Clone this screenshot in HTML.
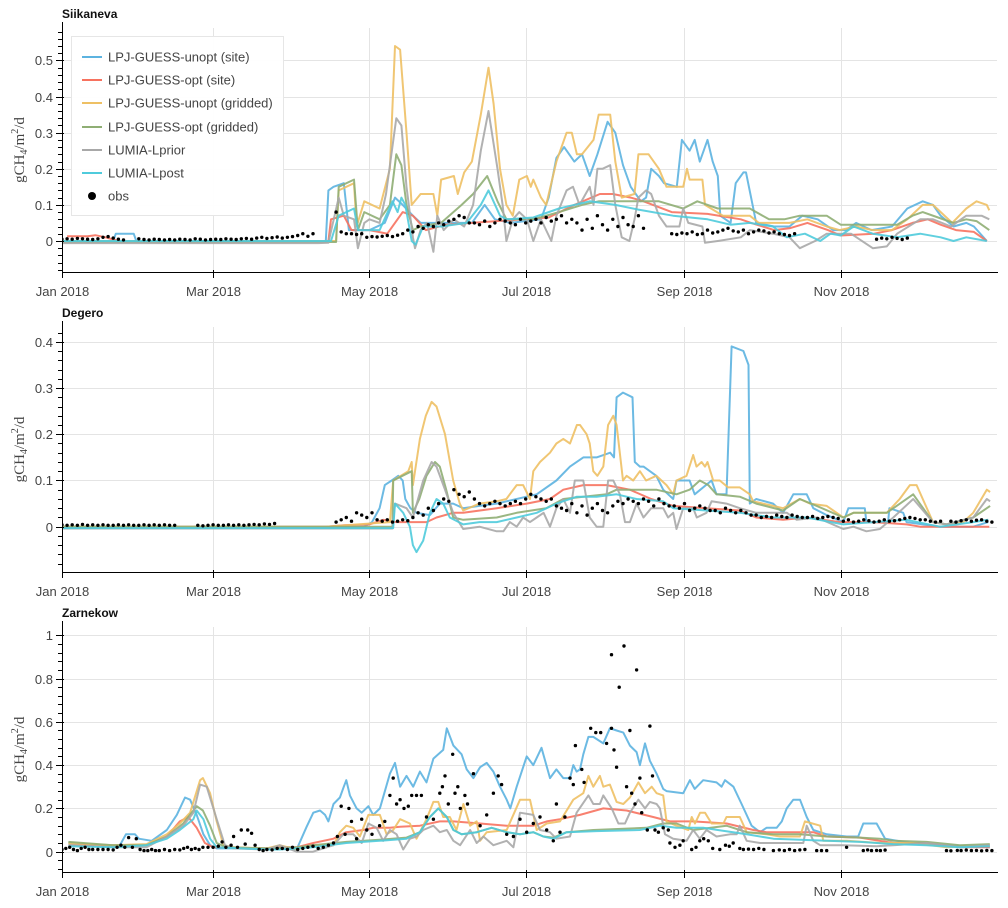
<!DOCTYPE html>
<html><head><meta charset="utf-8"><style>
html,body{margin:0;padding:0;background:#fff;}
svg{display:block;font-family:"Liberation Sans",sans-serif;}
</style></head><body>
<svg id="chart" width="1008" height="908" viewBox="0 0 1008 908" xmlns="http://www.w3.org/2000/svg"></svg>
<script>
// ---------- data ----------
const seriesNames = ["LPJ-GUESS-unopt (site)","LPJ-GUESS-opt (site)","LPJ-GUESS-unopt (gridded)","LPJ-GUESS-opt (gridded)","LUMIA-Lprior","LUMIA-Lpost"];
const seriesColors = ["#5cb3e0","#f7725f","#eec064","#8fae74","#a8a8a8","#4fcbdc"];
const panelTitles = ["Siikaneva","Degero","Zarnekow"];
const monthTicks = [0,59,120,181,243,304];
const monthLabels = ["Jan 2018","Mar 2018","May 2018","Jul 2018","Sep 2018","Nov 2018"];
const yTicks1 = [0,0.1,0.2,0.3,0.4,0.5];
const yTicks2 = [0,0.1,0.2,0.3,0.4];
const yTicks3 = [0,0.2,0.4,0.6,0.8,1];
const yLabels1 = ["0","0.1","0.2","0.3","0.4","0.5"];
const yLabels2 = ["0","0.1","0.2","0.3","0.4"];
const yLabels3 = ["0","0.2","0.4","0.6","0.8","1"];

// Siikaneva
const p1UnoptSite = [[0,0],[20,0],[21,0.02],[28,0.02],[29,0],[103,0],[104,0.14],[106,0.15],[110,0.16],[112,0.03],[120,0.03],[126,0.05],[130,0.12],[133,0.1],[137,0.07],[140,0.05],[160,0.05],[165,0.1],[169,0.06],[175,0.05],[187,0.06],[190,0.12],[193,0.23],[196,0.26],[200,0.22],[203,0.24],[206,0.18],[209,0.24],[213,0.33],[216,0.3],[219,0.21],[222,0.15],[226,0.11],[228,0.12],[230,0.2],[233,0.18],[235,0.16],[240,0.15],[242,0.28],[245,0.25],[247,0.28],[249,0.22],[252,0.28],[254,0.22],[256,0.18],[257,0.07],[261,0.05],[263,0.16],[266,0.19],[267,0.19],[269,0.12],[271,0.05],[278,0.04],[284,0.04],[289,0.07],[295,0.06],[301,0.03],[306,0.03],[310,0.05],[316,0.03],[324,0.04],[330,0.09],[336,0.11],[340,0.1],[343,0.07],[348,0.04],[353,0.05],[356,0.04],[361,0.0]];
const p1OptSite = [[2,0.013],[10,0.013],[13,0.016],[17,0.01],[22,0],[104,0],[105,0.06],[110,0.07],[113,0.03],[120,0.03],[127,0.02],[133,0.08],[137,0.07],[142,0.03],[150,0.045],[160,0.05],[180,0.06],[190,0.065],[200,0.1],[210,0.13],[215,0.13],[222,0.12],[227,0.11],[238,0.08],[252,0.075],[265,0.06],[269,0.05],[278,0.03],[284,0.035],[291,0.05],[299,0.03],[304,0.015],[317,0.02],[324,0.03],[332,0.05],[338,0.06],[343,0.045],[349,0.03],[356,0.025],[361,0.0]];
const p1UnoptGrid = [[0,0],[107,0],[108,0.14],[114,0.16],[115,0.04],[118,0.11],[124,0.09],[128,0.2],[130,0.54],[132,0.53],[134.5,0.3],[136.5,0.1],[140,0.13],[145,0.13],[146.5,0.07],[148,0.17],[153,0.18],[154.5,0.13],[157,0.19],[160,0.22],[163.5,0.35],[166.5,0.48],[168.5,0.38],[171,0.2],[173.5,0.1],[176,0.07],[178.5,0.17],[181.5,0.18],[183,0.15],[184,0.17],[187,0.12],[189,0.1],[193,0.22],[197,0.3],[199,0.3],[201,0.24],[203,0.24],[207.5,0.28],[209.5,0.35],[214,0.35],[216,0.22],[218.5,0.12],[223.5,0.13],[225,0.24],[229,0.24],[233,0.2],[236,0.15],[242.5,0.15],[244,0.2],[245,0.17],[250,0.17],[251,0.1],[258,0.07],[268.5,0.07],[272,0.05],[284,0.05],[291,0.06],[298.5,0.04],[303.5,0.03],[310,0.04],[316.5,0.03],[324,0.03],[330,0.06],[336,0.1],[340,0.1],[347.5,0.05],[353,0.09],[357,0.11],[361,0.1],[362,0.085]];
const p1OptGrid = [[0,-0.003],[107,-0.003],[108,0.15],[114,0.17],[115.5,0.03],[118,0.08],[124,0.06],[128,0.1],[130.5,0.24],[132.5,0.21],[134.5,0.1],[137,0.03],[140,0.04],[148,0.05],[156,0.1],[160.5,0.13],[166,0.18],[170,0.11],[173.5,0.06],[184,0.06],[194,0.08],[203,0.1],[209.5,0.11],[222.5,0.11],[233,0.11],[242.5,0.09],[248,0.11],[256,0.09],[268.5,0.09],[276,0.06],[282,0.06],[288,0.07],[298.5,0.07],[304,0.045],[326,0.045],[332,0.07],[336,0.08],[342,0.065],[348,0.05],[353,0.06],[357,0.055],[362,0.03]];
const p1Prior = [[0,-0.006],[100,-0.006],[104,-0.005],[108,0.12],[110,0.07],[114,0.06],[115.5,-0.02],[118,0.05],[120,0.06],[124,0.05],[126.5,0.13],[130.5,0.34],[132.5,0.32],[134.5,0.15],[137,0.01],[137.8,-0.02],[140,0.03],[142.5,0.05],[145,-0.03],[146.5,0.07],[149,0.03],[153,0.06],[157,0.04],[160.5,0.1],[163.5,0.25],[166.5,0.36],[170,0.2],[172,0.1],[173.5,0.0],[176,0.06],[178.5,0.08],[181.5,0.06],[184,0.0],[187,0.06],[191,0.0],[193,0.07],[197,0.14],[199.5,0.15],[202,0.1],[206,0.15],[207.5,0.1],[209,0.2],[211,0.2],[214,0.21],[216,0.1],[218.5,0.01],[221.5,0.0],[223.5,0.06],[225,0.12],[228,0.14],[230,0.13],[233,0.07],[236,0.04],[241,0.04],[242.5,0.09],[244.5,0.05],[250,0.04],[251,-0.005],[256,0.0],[265,0.01],[268.5,0.03],[277.5,0.02],[284,0.01],[288,-0.02],[294,0.0],[298.5,0.02],[308,0.02],[316.5,-0.02],[322,-0.015],[326,0.02],[335,0.06],[340,0.06],[347,0.04],[353,0.07],[359,0.07],[362,0.06]];
const p1Post = [[0,0],[105,0],[108,0.07],[114,0.09],[115.5,0.03],[124,0.03],[129,0.11],[131,0.08],[132.5,0.12],[134,0.1],[136.5,0.0],[138,-0.01],[141,0.04],[148,0.04],[158,0.05],[163.5,0.1],[166.5,0.14],[171,0.07],[173.5,0.06],[184,0.065],[194,0.09],[206,0.11],[216,0.1],[225,0.087],[238.5,0.07],[252,0.06],[261,0.045],[268.5,0.05],[277.5,0.04],[283,0.01],[290,0.02],[296,0.0],[300,0.02],[304,0.015],[309,0.04],[316.5,0.02],[326,0.01],[335,0.02],[343,0.01],[348,0.0],[353,0.01],[361,0.0]];
// obs: [start day, values every 2 days]
const p1Obs = [
 [0,[0.005,0.006,0.005,0.007,0.006,0.005,0.004,0.006,0.01,0.012,0.008,0.005,0.003]],
 [30,[0.006,0.004,0.003,0.005,0.004,0.003,0.004,0.003,0.005,0.004,0.003,0.006,0.005,0.003,0.004,0.005,0.004,0.006,0.005,0.004,0.006,0.007,0.005,0.008,0.01,0.007,0.009,0.011,0.008,0.01,0.012,0.015,0.02,0.013,0.02]],
 [107,[0.08]],
 [109,[0.025,0.02,0.02,0.018,0.02,0.01,0.012,0.011,0.013,0.015,0.012,0.016]],
 [133,[0.02,0.03,0.025,0.04,0.035,0.045,0.04,0.05,0.045,0.055,0.06,0.07,0.065,0.05]],
 [161,[0.05,0.045,0.055,0.04,0.05,0.06,0.055,0.05,0.045,0.06,0.05,0.055,0.06,0.05,0.065,0.055,0.06,0.07,0.05,0.06]],
 [201,[0.05,0.03,0.06,0.035,0.07,0.045,0.03,0.06,0.04,0.065,0.045,0.04,0.07,0.035]],
 [238,[0.02,0.018,0.022,0.02,0.025,0.018,0.02,0.03,0.022,0.025,0.03,0.035,0.028,0.025,0.03,0.02,0.025,0.03,0.028,0.022,0.025,0.02,0.018,0.015,0.02]],
 [318,[0.005,0.008,0.006,0.01,0.007,0.004,0.008]]
];

// Degero
const p2UnoptSite = [[0,0],[118,0],[121,0.01],[124,0.04],[126,0.09],[128.7,0.1],[131.3,0.11],[133,0.1],[134,0.06],[136,0.04],[138.4,0.03],[143.6,0.025],[147.5,0.05],[152.7,0.05],[156.6,0.04],[163,0.045],[169.7,0.05],[177.5,0.06],[185.3,0.07],[193,0.1],[198.3,0.13],[203.5,0.15],[208.7,0.15],[214,0.16],[215.5,0.15],[216.5,0.28],[219,0.29],[222.7,0.28],[223.6,0.14],[225.6,0.13],[227,0.13],[232,0.11],[234.7,0.08],[238.6,0.06],[239.9,0.1],[245,0.1],[247,0.07],[253.6,0.1],[255.5,0.07],[259.4,0.07],[261.4,0.39],[266,0.38],[268,0.35],[268.5,0.05],[271,0.06],[277.6,0.05],[281.5,0.03],[285.5,0.07],[290.7,0.07],[293.3,0.04],[298.5,0.025],[305,0.01],[307,0.04],[313.4,0.04],[314,0.01],[322.5,0.01],[323,0.04],[328.4,0.03],[329.7,0.01],[342.7,0.0],[355.7,0.0],[361.6,0.01]];
const p2OptSite = [[0,0],[103,0],[110,0.003],[120,0.005],[125.4,0.015],[130.6,0.01],[142.3,0.01],[146.2,0.02],[152.7,0.03],[156.6,0.03],[169.7,0.04],[181.4,0.05],[190.5,0.06],[195.7,0.08],[203.5,0.09],[212.6,0.09],[221.7,0.08],[230,0.06],[238.6,0.045],[251.6,0.04],[264.6,0.035],[271,0.02],[281.5,0.015],[290.7,0.02],[303.7,0.01],[316.7,0.01],[329.7,0.005],[335,0],[362,0]];
const p2UnoptGrid = [[0,0],[103,0],[128,0.01],[129.3,0.1],[135.2,0.12],[136.5,0.14],[137,0.09],[139.7,0.19],[142,0.24],[144.3,0.27],[146.2,0.26],[149.5,0.2],[152.7,0.1],[155.3,0.05],[156.6,0.035],[163,0.05],[169.7,0.055],[173.5,0.06],[174.8,0.07],[177.5,0.09],[180,0.09],[182.7,0.06],[184,0.12],[186.6,0.14],[190.5,0.16],[193,0.18],[195.7,0.19],[198.3,0.18],[201,0.22],[202.2,0.22],[204.8,0.2],[206,0.18],[207.4,0.12],[209,0.11],[211.3,0.13],[213.2,0.22],[215.2,0.24],[216.5,0.22],[219,0.1],[220.4,0.11],[223,0.1],[225.6,0.12],[228,0.1],[232,0.11],[236,0.09],[238.6,0.07],[239.9,0.1],[243.8,0.11],[246.4,0.155],[247.7,0.13],[249.7,0.14],[251,0.13],[252,0.14],[254.2,0.1],[256.8,0.1],[260,0.085],[264.6,0.085],[268.5,0.07],[269.8,0.055],[277.6,0.045],[281.5,0.04],[288,0.06],[292,0.05],[298.5,0.045],[305,0.02],[309,0.03],[322,0.03],[327,0.06],[331,0.09],[333.6,0.09],[340,0.01],[345.3,0.005],[351.8,0.01],[355.7,0.03],[361,0.08],[362.3,0.075]];
const p2OptGrid = [[0,0],[129,0],[129.3,0.1],[136.5,0.12],[137,0.03],[139.5,0.06],[142.3,0.11],[145.6,0.14],[147.5,0.13],[150,0.08],[152.7,0.02],[156.6,0.015],[169.7,0.02],[177.5,0.03],[189,0.04],[195.7,0.06],[203.5,0.065],[212.6,0.07],[216.5,0.08],[225.6,0.08],[232,0.08],[239.9,0.07],[245,0.08],[249,0.1],[252.3,0.09],[255.5,0.07],[264.6,0.065],[271,0.05],[281.5,0.035],[288,0.06],[294.6,0.045],[305,0.02],[309,0.03],[322,0.03],[332.3,0.07],[340,0.01],[345.3,0.005],[355.7,0.02],[361,0.04],[362.3,0.045]];
const p2Prior = [[0,-0.004],[129,-0.004],[130,0.05],[134.5,0.04],[137,0.02],[141,0.1],[144.3,0.14],[146.2,0.13],[149.5,0.08],[152.7,0.03],[156.6,-0.005],[163,0.0],[169.7,-0.01],[172.3,-0.01],[174.8,0.01],[177.5,0.0],[180,0.02],[182.7,0.01],[185.3,0.02],[188,0.03],[190.5,0.0],[193,0.04],[195.7,0.06],[198.3,0.03],[200.2,0.1],[203.5,0.1],[206,0.02],[208.7,0.0],[211.3,0.0],[213.2,0.1],[215.2,0.1],[217.8,0.07],[219.8,0.01],[221.7,0.01],[224.3,0.05],[227,0.02],[230,0.04],[234.7,0.04],[236.6,0.02],[238.6,0.03],[239.9,-0.005],[242.5,0.04],[246.4,0.04],[247.8,0.02],[251.6,0.03],[253.6,0.055],[259.4,0.05],[264.6,0.04],[271,0.03],[283,0.03],[286.8,0.015],[294.6,0.02],[305,-0.005],[309,0.0],[314,-0.01],[319.3,-0.005],[324.5,0.02],[332.3,0.06],[340,0.01],[345.3,0.005],[355.7,0.02],[361,0.06],[362.3,0.055]];
const p2Post = [[0,-0.003],[129.3,-0.003],[130,0.05],[133.2,0.03],[135.8,0.0],[137,-0.04],[138.4,-0.055],[141,-0.03],[143.6,0.03],[146.2,0.06],[148.8,0.05],[151.4,0.02],[156.6,0.005],[163,0.01],[169.7,0.01],[177.5,0.02],[185.3,0.03],[193,0.05],[201,0.065],[208.7,0.065],[216.5,0.07],[224.3,0.06],[234.7,0.055],[238.6,0.04],[251.6,0.035],[264.6,0.03],[277.6,0.02],[290.7,0.02],[305,0.005],[316.7,0.01],[329.7,0.015],[342.7,0.0],[355.7,0.01],[361.6,0.015]];
const p2Obs = [
 [0,[0.004,0.003,0.004,0.003,0.005,0.003,0.004,0.003,0.004,0.003,0.003,0.004,0.003,0.004,0.003,0.003,0.004,0.003,0.004,0.003,0.004,0.003,0.003]],
 [53,[0.003,0.002,0.003,0.004,0.003,0.003,0.004,0.003,0.004,0.003,0.004,0.005,0.004,0.006,0.005,0.007]],
 [107,[0.01,0.015,0.02,0.012,0.03,0.025,0.02,0.03,0.015,0.012,0.015,0.01,0.012,0.015,0.013]],
 [137,[0.02,0.03,0.025,0.04,0.035,0.05,0.06,0.055,0.08,0.07,0.065,0.075,0.06,0.05,0.045,0.05,0.055,0.05,0.045,0.05,0.055,0.05,0.06,0.07]],
 [185,[0.065,0.06,0.055,0.06,0.045,0.04,0.035,0.05,0.03,0.045,0.025,0.04,0.05,0.035,0.03,0.045,0.055,0.05,0.06,0.055,0.05,0.06,0.055,0.045,0.06,0.05,0.045]],
 [239,[0.045,0.04,0.05,0.035,0.04,0.045,0.04,0.035,0.035,0.03,0.04,0.035,0.03,0.035,0.03,0.025,0.025,0.02,0.022,0.02,0.025,0.022,0.02,0.025,0.022,0.02,0.02,0.022,0.018,0.02,0.022,0.02,0.018]],
 [305,[0.012,0.015,0.01,0.012,0.015,0.013,0.01,0.012,0.015,0.012,0.013,0.015,0.018,0.02,0.018,0.015,0.015,0.012,0.01,0.012]],
 [347,[0.012,0.01,0.013,0.015,0.012,0.014,0.015,0.012,0.01]]
];

// Zarnekow
const p3UnoptSite = [[2.5,0.04],[15,0.03],[22.6,0.03],[25,0.08],[28.5,0.08],[30,0.06],[35,0.05],[40.9,0.1],[44.8,0.17],[48,0.25],[50,0.24],[52.6,0.17],[55.2,0.08],[57.8,0.03],[60.4,0.015],[80,0.015],[91.6,0.01],[95.5,0.115],[98.1,0.18],[100.7,0.19],[102.7,0.17],[104,0.14],[106,0.22],[108.5,0.25],[110,0.3],[111,0.33],[112.4,0.26],[115,0.2],[117,0.18],[119.6,0.21],[121.5,0.17],[124.1,0.2],[128,0.36],[130,0.41],[132,0.3],[134.5,0.35],[137.1,0.3],[139.7,0.37],[142.3,0.32],[145,0.43],[148.8,0.47],[150.2,0.57],[152.8,0.49],[156,0.45],[158,0.38],[160.6,0.34],[163.2,0.39],[165.8,0.41],[168.4,0.37],[171,0.3],[173.6,0.24],[175,0.2],[177.5,0.3],[181.4,0.44],[184,0.4],[187.2,0.48],[190.5,0.34],[193,0.38],[195.7,0.34],[198.3,0.34],[199.6,0.4],[200.9,0.37],[202.2,0.38],[203.5,0.45],[205.5,0.53],[207.4,0.53],[211.3,0.5],[213.9,0.57],[216.5,0.56],[219.1,0.55],[221.7,0.49],[224.3,0.46],[225.6,0.4],[227.6,0.5],[229.5,0.42],[232.1,0.36],[234.7,0.29],[236,0.28],[242.5,0.27],[245.1,0.33],[247,0.29],[250.3,0.33],[255.5,0.32],[257.5,0.3],[258.8,0.33],[262.1,0.3],[265.3,0.22],[269.2,0.12],[272.5,0.09],[275,0.11],[279,0.11],[281,0.14],[282.9,0.2],[285.5,0.24],[288.1,0.24],[290.7,0.16],[293.3,0.1],[298.5,0.08],[306.3,0.07],[310.8,0.07],[312.8,0.13],[318,0.13],[321.3,0.06],[331,0.04],[344,0.03],[362.2,0.02]];
const p3OptSite = [[2.5,0.03],[20,0.03],[33,0.03],[40.9,0.07],[46,0.14],[49.3,0.16],[52.6,0.11],[55.8,0.04],[59,0.02],[80,0.015],[85,0.02],[91.6,0.02],[98.1,0.04],[106,0.06],[111,0.09],[117.6,0.1],[121.5,0.11],[128,0.11],[132,0.115],[139.7,0.12],[147.5,0.14],[152.8,0.14],[163.2,0.13],[173.6,0.12],[184,0.12],[189.2,0.14],[194.4,0.15],[202.2,0.17],[211.3,0.2],[220.4,0.19],[230.8,0.16],[237.3,0.14],[246.4,0.14],[259.5,0.13],[269.9,0.1],[275,0.09],[293.3,0.09],[298.5,0.07],[311.5,0.065],[324.5,0.04],[337.5,0.04],[350.5,0.02],[362.2,0.02]];
const p3UnoptGrid = [[2.5,0.04],[20,0.03],[33,0.035],[40.9,0.08],[46,0.13],[50,0.18],[53.9,0.33],[55,0.34],[57.8,0.27],[60.4,0.14],[63,0.03],[66.9,0.02],[80,0.015],[85,0.03],[91.6,0.01],[98,0.03],[106,0.03],[108.5,0.09],[111,0.12],[113.7,0.11],[116.3,0.07],[119.6,0.17],[124.1,0.17],[126.7,0.08],[129.3,0.1],[132,0.15],[135.8,0.13],[138.4,0.06],[142.3,0.15],[145,0.23],[146.9,0.23],[148.8,0.16],[151.4,0.16],[154,0.1],[156.7,0.22],[159.3,0.12],[161.9,0.14],[163.2,0.05],[165.8,0.09],[173.6,0.1],[178.8,0.24],[182.7,0.24],[185.3,0.1],[189.2,0.13],[194.4,0.14],[199.6,0.24],[203.5,0.27],[205.5,0.35],[207.4,0.3],[210,0.35],[211.3,0.3],[213.9,0.31],[216.5,0.23],[219.1,0.22],[221.7,0.25],[225,0.32],[227.6,0.27],[230.2,0.3],[232.1,0.27],[234.7,0.26],[236,0.14],[239.9,0.12],[244.5,0.1],[245.8,0.16],[247.1,0.13],[249.1,0.18],[251,0.18],[253.6,0.13],[258.2,0.13],[259.4,0.16],[264.6,0.16],[267.3,0.09],[275,0.08],[280.3,0.07],[288.1,0.07],[290,0.14],[296,0.12],[297.2,0.05],[306.3,0.05],[319.3,0.04],[332.3,0.04],[345.3,0.02],[362.2,0.03]];
const p3OptGrid = [[2.5,0.045],[20,0.03],[33,0.03],[40.9,0.07],[47.3,0.13],[52.6,0.21],[55,0.19],[57.8,0.12],[60.4,0.04],[64.3,0.02],[80,0.015],[91.6,0.02],[98,0.03],[111,0.045],[124,0.055],[134.5,0.065],[139.7,0.09],[143.6,0.16],[146.9,0.2],[150.2,0.16],[152.8,0.1],[156,0.08],[161.9,0.09],[167.7,0.11],[173.6,0.09],[178.8,0.08],[184,0.09],[187.9,0.07],[191.8,0.065],[197,0.09],[207.4,0.1],[228.2,0.11],[234.7,0.13],[239.9,0.13],[246.4,0.1],[259.4,0.12],[267.3,0.09],[277.7,0.08],[288.1,0.08],[298.5,0.07],[311.5,0.065],[319.3,0.06],[324.5,0.05],[337.5,0.045],[350.5,0.03],[362.2,0.035]];
const p3Prior = [[2.5,0.03],[20,0.02],[33,0.02],[40.9,0.07],[47.3,0.12],[51.3,0.18],[53.9,0.31],[56.5,0.3],[60.4,0.15],[63.6,0.03],[66.9,0.015],[80,0.01],[85,0.03],[91.6,0.0],[98,0.0],[106,0.03],[109.8,0.08],[113.7,0.08],[117,0.04],[119.6,0.13],[122.8,0.11],[125.4,0.05],[128,0.1],[130.6,0.08],[133.2,0.01],[135.8,0.06],[138.4,0.07],[141,0.1],[145,0.12],[147.5,0.09],[150.2,0.1],[152.8,0.05],[155.4,0.03],[159.3,0.1],[161.9,0.04],[164.5,0.07],[168.4,0.03],[173.6,0.05],[176.2,0.02],[178.8,0.18],[184,0.17],[186.6,0.1],[190.5,0.09],[193,0.06],[198.3,0.07],[200.9,0.18],[205.5,0.26],[207.4,0.22],[210,0.22],[211.3,0.26],[214.6,0.2],[217.2,0.13],[219.8,0.13],[221.7,0.18],[225,0.24],[227.6,0.2],[229.5,0.23],[232.1,0.22],[233.4,0.2],[235.4,0.08],[238.6,0.06],[243.8,0.05],[246.4,0.1],[249,0.06],[251.6,0.1],[255.5,0.07],[260.8,0.08],[263.4,0.08],[264.6,0.12],[267.3,0.05],[272.5,0.04],[289.4,0.04],[290.7,0.12],[293.3,0.05],[296,0.03],[305,0.03],[318,0.025],[324.5,0.03],[337.5,0.04],[350.5,0.02],[362.2,0.03]];
const p3Post = [[2.5,0.025],[20,0.02],[33,0.03],[40.9,0.06],[46,0.1],[51.3,0.15],[52.6,0.19],[55.2,0.15],[57.8,0.06],[60.4,0.02],[80,0.01],[85,0.01],[98,0.02],[111,0.04],[124,0.05],[134.5,0.06],[139.7,0.09],[143.6,0.16],[146.9,0.2],[150.2,0.16],[152.8,0.1],[156,0.08],[161.9,0.09],[167.7,0.11],[173.6,0.09],[178.8,0.08],[184,0.09],[187.9,0.07],[191.8,0.06],[197,0.09],[208.7,0.095],[225.6,0.1],[233.5,0.12],[239.9,0.11],[250.3,0.11],[256,0.1],[267.3,0.08],[277.7,0.06],[288.1,0.055],[298.5,0.05],[311.5,0.045],[324.5,0.035],[337.5,0.03],[350.5,0.02],[362.2,0.025]];
const p3Obs = [[0,0.01],[1.5,0.015],[3,0.02],[4.5,0.01],[6,0.005],[7.5,0.015],[9,0.02],[10.5,0.01],[12,0.01],[14,0.01],[16,0.01],[18,0.01],[20,0.008],[21.5,0.02],[23,0.03],[24.5,0.02],[26,0.065],[27.5,0.02],[29,0.06],[30.5,0.01],[32,0.005],[33.5,0.005],[35,0.01],[36.5,0.005],[38,0.005],[40,0.01],[42,0.005],[44,0.01],[46,0.008],[47.5,0.015],[49,0.02],[50.5,0.01],[52,0.015],[53.5,0.01],[55,0.02],[57,0.02],[59,0.02],[61,0.025],[62.5,0.045],[64,0.02],[66,0.03],[67,0.07],[68.5,0.02],[70,0.1],[71.5,0.035],[72.5,0.1],[74,0.085],[75.4,0.03],[77,0.01],[78.5,0.005],[80,0.01],[82,0.008],[84,0.015],[86,0.015],[88,0.01],[90,0.02],[92,0.01],[94,0.015],[96,0.02],[98,0.025],[100,0.015],[102,0.02],[104,0.03],[106,0.04],[107.5,0.07],[109,0.21],[110.5,0.08],[112,0.2],[113,0.14],[115,0.06],[117,0.15],[119,0.1],[121,0.08],[124,0.12],[126,0.14],[128,0.26],[129.3,0.34],[130.6,0.22],[132,0.24],[133.5,0.2],[135.2,0.21],[136.5,0.26],[138.4,0.26],[140.3,0.26],[142.3,0.16],[145,0.15],[147.5,0.27],[148.5,0.3],[149.5,0.35],[150.8,0.22],[152.5,0.45],[153.4,0.27],[154.5,0.3],[155.5,0.2],[157.3,0.26],[158.3,0.22],[160.6,0.36],[163.2,0.12],[165.8,0.17],[168.4,0.27],[170.3,0.35],[171.6,0.31],[173.6,0.08],[176.2,0.07],[178.8,0.15],[181.4,0.09],[184,0.13],[186.6,0.16],[189.2,0.1],[191.8,0.05],[193,0.22],[194.4,0.09],[196.3,0.16],[198.3,0.34],[199.6,0.31],[200.4,0.49],[202.9,0.38],[203.8,0.32],[206.4,0.57],[208.4,0.55],[210.3,0.55],[212.6,0.5],[214.5,0.57],[214.5,0.91],[215.5,0.47],[216.5,0.39],[217.5,0.76],[219.4,0.95],[220.4,0.3],[221.7,0.56],[222.4,0.27],[223.7,0.22],[224.3,0.84],[225.6,0.34],[226.3,0.18],[228.5,0.1],[229.5,0.58],[230.5,0.35],[231.5,0.1],[232.8,0.09],[234.7,0.11],[236.7,0.1],[237.3,0.04],[239.3,0.02],[241.2,0.03],[242.5,0.05],[245.8,0.01],[247.5,0.02],[249,0.05],[250.5,0.06],[252.3,0.05],[254,0.015],[256.8,0.01],[259,0.03],[260.5,0.025],[262,0.04],[264.6,0.015],[266,0.01],[268,0.012],[270,0.01],[272,0.015],[274,0.01],[277.7,0.005],[280,0.008],[282,0.005],[284,0.01],[286,0.005],[288,0.008],[290,0.01],[294.6,0.005],[296.5,0.005],[298.5,0.005],[306.3,0.02],[312.8,0.005],[314.5,0.008],[316,0.005],[318,0.006],[319.5,0.005],[321.3,0.007],[345.3,0.005],[347,0.004],[349.5,0.006],[351,0.005],[353,0.007],[355,0.005],[357,0.006],[359,0.004],[361,0.006],[363,0.005]];

// ---------- drawing ----------
const NS = "http://www.w3.org/2000/svg";
const svg = document.getElementById("chart");
const X0 = 62, X1 = 997, DAYS = 365;
function xScale(d){ return X0 + (X1 - X0) * d / DAYS; }
function mk(tag, attrs, parent){
  const e = document.createElementNS(NS, tag);
  for (const k in attrs) e.setAttribute(k, attrs[k]);
  (parent || svg).appendChild(e);
  return e;
}
function expandObs(segs){
  const out = [];
  segs.forEach(s => s[1].forEach((v, i) => out.push([s[0] + 2 * i, v])));
  return out;
}

const panels = [
  {top:28, bottom:272, ymin:-0.086, ymax:0.59, ticks:yTicks1, labels:yLabels1, minorStep:0.02, minorFrom:-0.08,
   series:[p1UnoptSite,p1OptSite,p1UnoptGrid,p1OptGrid,p1Prior,p1Post], obs:expandObs(p1Obs), legend:true},
  {top:327, bottom:572, ymin:-0.098, ymax:0.432, ticks:yTicks2, labels:yLabels2, minorStep:0.02, minorFrom:-0.08,
   series:[p2UnoptSite,p2OptSite,p2UnoptGrid,p2OptGrid,p2Prior,p2Post], obs:expandObs(p2Obs)},
  {top:627, bottom:872, ymin:-0.094, ymax:1.038, ticks:yTicks3, labels:yLabels3, minorStep:0.04, minorFrom:-0.08,
   series:[p3UnoptSite,p3OptSite,p3UnoptGrid,p3OptGrid,p3Prior,p3Post], obs:p3Obs}
];
const seriesKeys = ["unopt-site","opt-site","unopt-gridded","opt-gridded","lumia-lprior","lumia-lpost"];

panels.forEach((p, pi) => {
  const g = mk("g", {});
  
  
  const yS = v => p.bottom - (v - p.ymin) / (p.ymax - p.ymin) * (p.bottom - p.top);

  const t = mk("text", {x:X0, y:p.top - 10, "font-size":"12", "font-weight":"bold", fill:"#111"}, g);
  t.textContent = panelTitles[pi];
  
  

  // grid
  const grid = mk("g", {stroke:"#e4e4e4", "stroke-width":"1"}, g);
  
  
  p.ticks.forEach(v => { const y = Math.round(yS(v)) + 0.5; mk("line", {x1:X0, x2:X1, y1:y, y2:y}, grid); });
  monthTicks.forEach(d => { const x = Math.round(xScale(d)) + 0.5; mk("line", {x1:x, x2:x, y1:p.top, y2:p.bottom}, grid); });

  // clip
  const cid = "clip" + pi;
  const cp = mk("clipPath", {id:cid}, g);
  mk("rect", {x:X0, y:p.top, width:X1 - X0, height:p.bottom - p.top}, cp);
  const plot = mk("g", {"clip-path":"url(#" + cid + ")"}, g);

  p.series.forEach((s, si) => {
    const d = s.map((pt, i) => (i ? "L" : "M") + xScale(pt[0]).toFixed(1) + "," + yS(pt[1]).toFixed(1)).join("");
    const path = mk("path", {d:d, fill:"none", stroke:seriesColors[si], "stroke-width":"2", "stroke-opacity":"0.9", "stroke-linejoin":"round"}, plot);
    
    
  });
  const og = mk("g", {fill:"#000"}, plot);
  
  
  p.obs.forEach(pt => {
    const c = mk("circle", {cx:xScale(pt[0]).toFixed(1), cy:yS(pt[1]).toFixed(1), r:"1.7"}, og);
    
    
  });

  // axes
  const ax = mk("g", {stroke:"#000", "stroke-width":"1"}, g);
  
  
  mk("line", {x1:X0 + 0.5, x2:X0 + 0.5, y1:p.top - 6, y2:p.bottom}, ax);
  mk("line", {x1:X0, x2:X1 + 1, y1:p.bottom + 0.5, y2:p.bottom + 0.5}, ax);
  for (let v = p.minorFrom; v <= p.ymax + 1e-9; v += p.minorStep) {
    const y = Math.round(yS(v)) + 0.5;
    if (y < p.top - 6 || y > p.bottom) continue;
    mk("line", {x1:X0 - 4, x2:X0 + 0.5, y1:y, y2:y}, ax);
  }
  p.ticks.forEach((v, i) => {
    const y = Math.round(yS(v)) + 0.5;
    mk("line", {x1:X0 - 6, x2:X0 + 2, y1:y, y2:y}, ax);
    const lt = mk("text", {x:X0 - 9, y:y + 4.5, "text-anchor":"end", "font-size":"13", fill:"#444", stroke:"none"}, g);
    lt.textContent = p.labels[i];
    
    
  });
  monthTicks.forEach((d, i) => {
    const x = Math.round(xScale(d)) + 0.5;
    mk("line", {x1:x, x2:x, y1:p.bottom - 2, y2:p.bottom + 6}, ax);
    const lt = mk("text", {x:x, y:p.bottom + 24, "text-anchor":"middle", "font-size":"13", fill:"#444"}, g);
    lt.textContent = monthLabels[i];
    
    
  });

  // y axis title
  const cy = (p.top + p.bottom) / 2;
  const yt = mk("text", {transform:"translate(24," + cy + ") rotate(-90)", "text-anchor":"middle", "font-size":"15", fill:"#444", "font-family":"Liberation Serif, serif"}, g);
  
  
  yt.innerHTML = 'gCH<tspan font-size="10" dy="3">4</tspan><tspan dy="-3">/m</tspan><tspan font-size="10" dy="-6">2</tspan><tspan dy="6">/d</tspan>';

  if (p.legend) {
    const lg = mk("g", {}, g);
    
    
    mk("rect", {x:71.5, y:36.5, width:212, height:179, fill:"#fff", "fill-opacity":"0.95", stroke:"#e6e6e6"}, lg);
    const ys = [57, 80, 103, 127, 150, 173];
    seriesNames.forEach((n, i) => {
      const e = mk("g", {}, lg);
      
      
      mk("line", {x1:82, x2:102, y1:ys[i], y2:ys[i], stroke:seriesColors[i], "stroke-width":"2"}, e);
      const tx = mk("text", {x:108, y:ys[i] + 4.5, "font-size":"13", fill:"#444"}, e);
      tx.textContent = n;
    });
    const e = mk("g", {}, lg);
    
    
    mk("circle", {cx:92, cy:196, r:4, fill:"#000"}, e);
    const tx = mk("text", {x:108, y:200.5, "font-size":"13", fill:"#444"}, e);
    tx.textContent = "obs";
  }
});
</script>
</body></html>
